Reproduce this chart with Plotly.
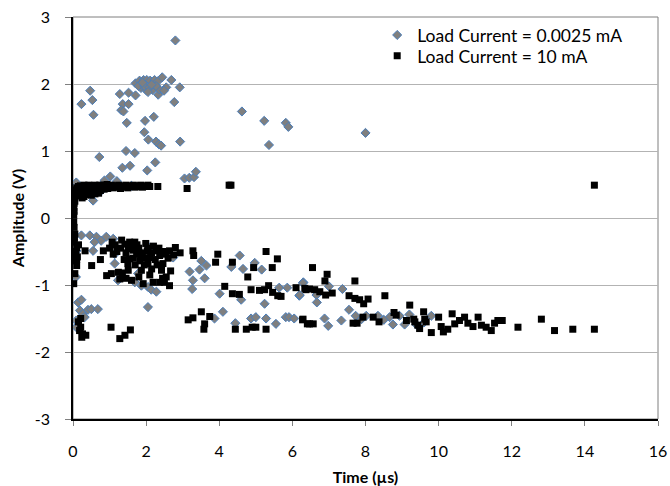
import plotly.graph_objects as go

# Load Current = 0.0025 mA (grey diamonds)
low_x = [2.8, 1.71, 1.82, 1.93, 2.02, 2.11, 2.23, 2.32, 2.44, 2.55, 2.69, 2.92, 2.33, 1.71, 1.86, 2.0, 2.18,
         2.36, 2.49, 1.79, 1.95, 2.09, 2.27, 1.9, 2.15, 2.05,
         0.47, 0.53, 0.23, 0.56, 1.28, 1.52, 1.36, 1.52, 1.32, 1.38, 1.47, 2.77, 1.97, 2.21, 1.95, 2.06, 2.27,
         2.35, 2.41, 2.93, 4.62, 5.23, 5.36, 5.82, 5.89, 8.0,
         0.72, 1.45, 1.69, 1.35, 1.56, 2.25, 2.03, 3.05, 3.18, 3.31, 3.36, 1.02, 0.86, 0.09, 0.55, 1.2, 0.6,
         0.3, 1.6, 0.8,
         0.09, 0.08, 0.14, 0.23, 0.19, 0.27, 0.41, 0.5, 0.68, 0.09, 0.09, 0.32,
         0.23, 0.46, 0.64, 0.77, 0.59, 0.91, 1.1, 0.55, 1.14, 1.14, 1.23, 1.33, 1.69, 1.87, 2.05, 2.14, 2.28,
         2.05, 1.78, 1.83, 2.1, 2.74, 3.19, 3.28, 3.26, 3.46, 3.51, 3.65, 3.6, 4.01, 4.33, 4.56, 4.65, 4.97,
         5.16, 4.6, 4.1, 4.44, 4.87, 5.0, 5.24, 5.28, 5.55, 5.82, 5.91, 6.05, 5.64, 5.86, 6.19, 6.3, 3.87,
         6.29, 6.66, 6.67, 7.0, 7.37, 7.55, 7.73, 8.02, 8.34, 8.66, 8.75, 8.93, 9.07, 9.39, 9.8, 6.88, 6.98,
         7.34, 6.2, 7.89, 8.5, 9.2, 9.6]
low_y = [2.65, 2.01, 2.05, 2.06, 2.06, 2.05, 2.06, 2.04, 2.1, 1.95, 2.06, 1.95, 1.84, 1.83, 1.94, 1.91, 1.91,
         1.92, 1.9, 1.97, 1.97, 1.95, 1.97, 2.02, 1.99, 1.88,
         1.9, 1.76, 1.7, 1.54, 1.85, 1.87, 1.7, 1.7, 1.61, 1.59, 1.42, 1.73, 1.45, 1.51, 1.28, 1.17, 1.14,
         1.1, 1.08, 1.14, 1.59, 1.45, 1.09, 1.42, 1.36, 1.27,
         0.91, 1.0, 0.97, 0.75, 0.78, 0.83, 0.71, 0.59, 0.6, 0.61, 0.69, 0.62, 0.56, 0.53, 0.26, 0.55, 0.45,
         0.35, 0.48, 0.42,
         -0.49, -0.88, -1.26, -1.22, -1.38, -1.43, -1.37, -1.36, -1.36, -1.53, -1.63, -1.48,
         -0.26, -0.26, -0.28, -0.34, -0.36, -0.28, -0.31, -0.49, -0.54, -0.68, -0.93, -0.86, -0.96, -1.01,
         -1.03, -1.07, -1.1, -1.33, -0.83, -0.51, -0.44, -0.59, -0.8, -0.93, -1.06, -0.77, -0.64, -0.71,
         -0.9, -1.13, -0.73, -0.56, -0.76, -0.67, -0.77, -1.22, -1.4, -1.57, -1.5, -1.48, -1.28, -1.5,
         -1.58, -1.48, -1.48, -1.5, -1.04, -1.04, -1.16, -0.96, -1.5,
         -0.97, -1.15, -1.26, -1.02, -1.06, -1.37, -1.46, -1.46, -1.46, -1.48, -1.59, -1.46, -1.59, -1.59,
         -1.46, -1.5, -1.61, -1.53, -1.15, -1.51, -1.52, -1.44, -1.56]

# Load Current = 10 mA (black squares)
high_x = [0.02, 0.03, 0.04, 0.05, 0.06, 0.08, 0.1, 0.12, 0.15, 0.18, 0.2, 0.22, 0.25, 0.28, 0.3, 0.33,
          0.35, 0.38, 0.4, 0.43, 0.45, 0.48, 0.5, 0.53, 0.55, 0.58, 0.6, 0.63, 0.65, 0.68, 0.7, 0.73, 0.75,
          0.78, 0.8, 0.83, 0.85, 0.88, 0.9, 0.93, 0.95, 0.98, 1.0, 1.05, 1.1, 1.15, 1.2, 1.25, 1.3, 1.35,
          1.4, 1.45, 1.5, 1.55, 1.6, 1.65, 1.7, 1.75, 1.8, 1.85, 1.9, 1.95, 2.0, 2.05, 2.1, 2.32, 3.12,
          4.27, 4.32, 14.26, 0.15, 0.2, 0.3, 0.4, 0.5, 0.6, 0.7, 0.25, 0.05, 0.03, 0.02,
          0.02, 0.03, 0.05, 0.03, 0.1, 0.08, 0.05, 0.1, 0.05, 0.02, 0.04, 0.06, 0.03, 0.1, 0.12, 0.15,
          0.33, 0.51, 0.83, 1.07, 1.1, 0.92, 1.05, 1.24, 1.28, 1.33, 1.42, 1.51, 1.55, 1.51, 1.6, 1.69,
          1.74, 1.83, 1.87, 1.92, 1.99, 2.03, 2.1, 2.15, 2.19, 2.28, 2.37, 2.46, 2.42, 2.37, 2.5, 2.64,
          2.55, 2.67, 2.64, 2.8, 2.93, 3.28, 3.3, 3.96, 3.9, 4.36, 4.78, 4.94, 5.28, 5.45, 5.59, 4.15,
          4.36, 4.55, 4.87, 5.1, 5.24, 5.35, 5.46, 5.6, 5.69, 6.1, 6.37,
          1.3, 1.45, 1.6, 1.65, 1.8, 1.9, 2.0, 2.2, 2.25, 2.3, 1.7, 1.95, 2.1, 1.8, 2.45, 2.6, 2.75, 1.2,
          1.4, 1.5, 1.65, 2.05, 2.35, 2.5, 1.75, 1.55, 1.15, 1.0, 0.75, 1.85, 2.15, 2.05, 1.35, 1.45,
          2.55, 2.45,
          0.21, 0.21, 0.26, 0.35, 0.24, 0.15, 0.18, 1.04, 1.28, 1.42, 1.57, 3.15, 3.28, 3.51, 3.6, 3.58,
          3.74, 4.44, 4.74, 4.9, 5.0, 5.28, 6.28, 6.41,
          6.55, 6.95, 6.89, 7.71, 6.34, 6.47, 6.61, 6.75, 6.91, 7.09, 7.55, 7.71, 7.84, 7.95, 8.07, 8.53,
          9.21, 6.29, 6.47, 6.57, 7.66, 7.77, 7.93, 8.21, 8.37, 8.78, 8.84, 9.12, 9.32, 9.48, 9.59, 9.62,
          9.66, 9.8, 10.0, 10.07, 10.13, 10.25, 10.37, 10.44, 10.57, 10.71, 10.8, 10.94, 11.08, 11.17,
          11.3, 11.44, 11.53, 11.62, 11.74, 12.17, 12.81, 13.17, 13.67, 14.26, 9.35, 9.43]
high_y = [0.16, 0.22, 0.28, 0.33, 0.38, 0.42, 0.45, 0.4, 0.47, 0.44, 0.48, 0.42, 0.46, 0.38, 0.49, 0.44,
          0.4, 0.47, 0.43, 0.49, 0.38, 0.45, 0.48, 0.42, 0.47, 0.4, 0.49, 0.45, 0.42, 0.48, 0.44, 0.49,
          0.41, 0.47, 0.45, 0.49, 0.43, 0.48, 0.46, 0.5, 0.44, 0.48, 0.46, 0.49, 0.45, 0.48, 0.46, 0.49,
          0.44, 0.48, 0.46, 0.49, 0.45, 0.48, 0.47, 0.49, 0.46, 0.48, 0.47, 0.49, 0.46, 0.48, 0.47, 0.49,
          0.47, 0.47, 0.44, 0.49, 0.49, 0.49, 0.33, 0.36, 0.32, 0.35, 0.34, 0.36, 0.37, 0.3, 0.25, 0.1,
          0.04,
          -0.06, -0.14, -0.24, -0.36, -0.44, -0.54, -0.64, -0.71, -0.83, -0.98, -0.3, -0.5, -0.6, -0.62,
          -0.58, -0.4,
          -0.49, -0.71, -0.49, -0.36, -0.54, -0.86, -0.83, -0.81, -0.91, -0.33, -0.39, -0.46, -0.61,
          -0.78, -0.93, -0.36, -0.54, -0.64, -0.78, -0.98, -0.38, -0.49, -0.59, -0.76, -0.96, -0.49,
          -0.56, -0.68, -0.78, -0.96, -0.96, -1.01, -0.54, -0.79, -0.49, -0.44, -0.52, -0.49, -0.56,
          -0.54, -0.66, -0.66, -0.88, -0.74, -0.5, -0.74, -0.61, -1.02, -1.13, -1.14, -1.07, -1.08,
          -1.07, -1.01, -1.11, -1.16, -1.17, -1.04, -1.07,
          -0.45, -0.52, -0.42, -0.48, -0.45, -0.52, -0.6, -0.42, -0.62, -0.7, -0.7, -0.7, -0.85, -0.88,
          -0.5, -0.6, -0.55, -0.5, -0.62, -0.68, -0.6, -0.45, -0.45, -0.52, -0.4, -0.36, -0.4, -0.45,
          -0.62, -0.55, -0.52, -0.68, -0.82, -0.9, -0.88, -0.9,
          -1.5, -1.63, -1.73, -1.75, -1.78, -1.55, -1.68, -1.63, -1.8, -1.75, -1.67, -1.52, -1.49, -1.4,
          -1.58, -1.66, -1.47, -1.66, -1.66, -1.63, -1.63, -1.66, -1.52, -1.58,
          -0.74, -0.84, -0.94, -0.94, -1.05, -1.06, -1.07, -1.1, -1.15, -1.12, -1.16, -1.2, -1.22, -1.28,
          -1.21, -1.16, -1.3, -1.51, -1.58, -1.58, -1.57, -1.57, -1.48, -1.48, -1.55, -1.41, -1.45,
          -1.53, -1.51, -1.65, -1.4, -1.51, -1.55, -1.71, -1.48, -1.62, -1.7, -1.66, -1.43, -1.58, -1.53,
          -1.48, -1.57, -1.62, -1.48, -1.6, -1.63, -1.68, -1.57, -1.53, -1.53, -1.63, -1.51, -1.68,
          -1.66, -1.66, -1.55, -1.6]

x_ticks = [0, 2, 4, 6, 8, 10, 12, 14, 16]
y_ticks = [-3, -2, -1, 0, 1, 2, 3]

FONT = "Lato, 'Open Sans', sans-serif"

fig = go.Figure()
fig.add_trace(go.Scatter(
    x=low_x, y=low_y, mode="markers", name="Load Current = 0.0025 mA", legend="legend",
    marker=dict(symbol="diamond", size=7, color="#7f7f7f",
                line=dict(color="#4a7ebb", width=1)),
))
fig.add_trace(go.Scatter(
    x=high_x, y=high_y, mode="markers", name="Load Current = 10 mA", legend="legend2",
    marker=dict(symbol="square", size=7, color="#000000",
                line=dict(color="#000000", width=0)),
))

legend_common = dict(x=0.52, xanchor="left", yanchor="middle",
                     bgcolor="rgba(0,0,0,0)", font=dict(size=17.5, family=FONT))

fig.update_layout(
    width=670, height=486,
    margin=dict(l=73, r=12, t=17, b=67),
    paper_bgcolor="white", plot_bgcolor="white",
    font=dict(family=FONT, size=16, color="#000000"),
    showlegend=True,
    legend=dict(y=0.955, **legend_common),
    legend2=dict(y=0.903, **legend_common),
    xaxis=dict(
        range=[0, 16], tickvals=x_ticks, ticktext=[str(v) for v in x_ticks],
        showgrid=False, zeroline=False, showline=True, linecolor="#000000", linewidth=1.5,
        mirror=False, ticks="outside", ticklen=5, tickcolor="#808080",
        ticklabelstandoff=12, ticklabeloverflow="allow",
        tickfont=dict(size=16, family=FONT), automargin=False,
        title=dict(text="<b>Time (µs)</b>", font=dict(size=16, family=FONT), standoff=14),
    ),
    yaxis=dict(
        range=[-3, 3], tickvals=y_ticks, ticktext=[str(v) for v in y_ticks],
        showgrid=True, gridcolor="#b3b3b3", gridwidth=1,
        zeroline=False, showline=True, linecolor="#000000", linewidth=1.5,
        ticks="outside", ticklen=6, tickcolor="#808080",
        ticklabelstandoff=12, ticklabeloverflow="allow",
        tickfont=dict(size=16, family=FONT), automargin=False,
        title=dict(text="<b>Amplitude (V)</b>", font=dict(size=16, family=FONT), standoff=6),
    ),
)
# top and right plot-area border
fig.add_shape(type="rect", xref="paper", yref="paper", x0=0, y0=0, x1=1, y1=1,
              line=dict(color="#7f7f7f", width=1), layer="below")

fig.write_html("out.html", config={"displayModeBar": False},
               post_script="document.body.style.margin='0px';document.body.style.overflow='hidden';")
